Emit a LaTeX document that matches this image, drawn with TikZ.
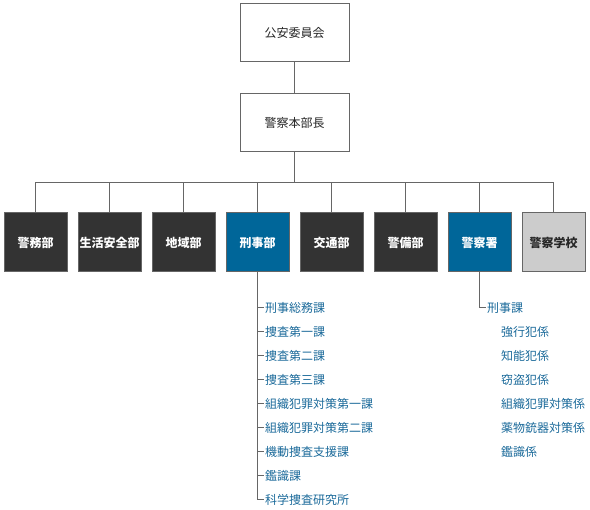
\documentclass[tikz,border=0pt]{standalone}
\usepackage{fontspec}
\setmainfont{Noto Sans CJK JP}
\begin{document}
\begin{tikzpicture}[x=1pt,y=-1pt,
  line/.style={draw=linegray,line width=1pt},
  topbox/.style={draw=linegray,line width=1pt,fill=white,minimum width=109pt,minimum height=58pt,inner sep=0pt,font=\fontsize{12}{14}\selectfont,text=black!85},
  dept/.style={draw=linegray,line width=1pt,minimum width=63pt,minimum height=59pt,inner sep=0pt,font=\fontsize{12}{14}\selectfont\bfseries},
  darkdept/.style={dept,fill=darkbox,text=white},
  bluedept/.style={dept,fill=bluebox,text=white},
  graydept/.style={dept,fill=graybox,text=black!85},
  item/.style={anchor=west,inner sep=1pt,font=\fontsize{12}{14}\selectfont,text=itemblue}
]
\definecolor{linegray}{HTML}{666666}
\definecolor{darkbox}{HTML}{333333}
\definecolor{bluebox}{HTML}{006699}
\definecolor{graybox}{HTML}{CCCCCC}
\definecolor{itemblue}{HTML}{1B6A9A}
\useasboundingbox (0,0) rectangle (590,510);

\node[topbox] (iinkai) at (294.5,32.5) {公安委員会};
\node[topbox] (honbu) at (294.5,123) {警察本部長};
\coordinate (bus) at (294.5,182.5);

\node[darkdept] (d1) at (35.5,242.5) {警務部};
\node[darkdept] (d2) at (109.5,242.5) {生活安全部};
\node[darkdept] (d3) at (183.5,242.5) {地域部};
\node[bluedept] (d4) at (257.5,242.5) {刑事部};
\node[darkdept] (d5) at (331.5,242.5) {交通部};
\node[darkdept] (d6) at (405.5,242.5) {警備部};
\node[bluedept] (d7) at (479.5,242.5) {警察署};
\node[graydept] (d8) at (553.5,242.5) {警察学校};

\draw[line] (iinkai) -- (honbu);
\draw[line] (honbu) -- (bus);
\foreach \d in {d1,d2,d3,d4,d5,d6,d7,d8}{
  \draw[line] (\d.north) |- (bus);
}

% left list
\node[item] (l1) at (264,308) {刑事総務課};
\node[item] (l2) at (264,332) {捜査第一課};
\node[item] (l3) at (264,356) {捜査第二課};
\node[item] (l4) at (264,380) {捜査第三課};
\node[item] (l5) at (264,404) {組織犯罪対策第一課};
\node[item] (l6) at (264,428) {組織犯罪対策第二課};
\node[item] (l7) at (264,452) {機動捜査支援課};
\node[item] (l8) at (264,476) {鑑識課};
\node[item] (l9) at (264,500) {科学捜査研究所};
\draw[line] (d4.south) |- (l9.west);
\foreach \l in {l1,l2,l3,l4,l5,l6,l7,l8}{
  \draw[line] (\l.west -| d4.south) -- (\l.west);
}

% right list
\node[item] (r0) at (486,308) {刑事課};
\node[item] (r1) at (500,332) {強行犯係};
\node[item] (r2) at (500,356) {知能犯係};
\node[item] (r3) at (500,380) {窃盗犯係};
\node[item] (r4) at (500,404) {組織犯罪対策係};
\node[item] (r5) at (500,428) {薬物銃器対策係};
\node[item] (r6) at (500,452) {鑑識係};
\draw[line] (d7.south) |- (r0.west);
\end{tikzpicture}
\end{document}
